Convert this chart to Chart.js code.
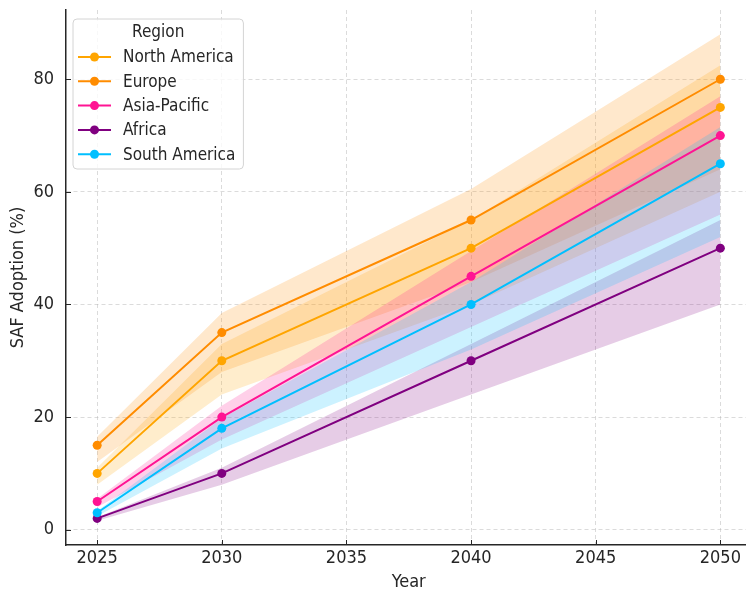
<!DOCTYPE html>
<html>
<head>
<meta charset="utf-8">
<script src="https://cdn.jsdelivr.net/npm/chart.js@4/dist/chart.umd.min.js"></script>
<style>
  html, body { margin: 0; padding: 0; background: #ffffff; overflow: hidden; }
  #wrap { width: 746px; height: 593px; position: relative; overflow: hidden; }
</style>
</head>
<body>
<div id="wrap"><canvas id="chart" width="756" height="593"></canvas></div>
<script>
// Years with observations / projections
const years = [2025, 2030, 2040, 2050];

// Region names in legend order
const regions = ['North America', 'Europe', 'Asia-Pacific', 'Africa', 'South America'];

// SAF adoption (%) per region
const northAmerica = [10, 30, 50, 75];
const europe = [15, 35, 55, 80];
const asiaPacific = [5, 20, 45, 70];
const africa = [2, 10, 30, 50];
const southAmerica = [3, 18, 40, 65];

// Uncertainty band edges per region (lower / upper, %)
const northAmericaLow = [8, 24, 40, 60];
const northAmericaHigh = [11, 33, 55, 82.5];
const europeLow = [12, 28, 44, 64];
const europeHigh = [16.5, 38.5, 60.5, 88];
const asiaPacificLow = [4, 16, 36, 56];
const asiaPacificHigh = [5.5, 22, 49.5, 77];
const africaLow = [1.6, 8, 24, 40];
const africaHigh = [2.2, 11, 33, 55];
const southAmericaLow = [2.4, 14.4, 32, 52];
const southAmericaHigh = [3.3, 19.8, 44, 71.5];

// Tick values
const xTicks = [2025, 2030, 2035, 2040, 2045, 2050];
const yTicks = [0, 20, 40, 60, 80];

const colors = ['#FFA500', '#FF8C00', '#FF1493', '#800080', '#00BFFF'];
const fills = ['rgba(255,165,0,0.2)', 'rgba(255,140,0,0.2)', 'rgba(255,20,147,0.2)', 'rgba(128,0,128,0.2)', 'rgba(0,191,255,0.2)'];

const seriesValues = [northAmerica, europe, asiaPacific, africa, southAmerica];
const seriesLow = [northAmericaLow, europeLow, asiaPacificLow, africaLow, southAmericaLow];
const seriesHigh = [northAmericaHigh, europeHigh, asiaPacificHigh, africaHigh, southAmericaHigh];

const FONT = '"DejaVu Sans Condensed", "DejaVu Sans", sans-serif';
const TEXT = '#262626';

const pts = arr => arr.map((v, i) => ({ x: years[i], y: v }));

// Later regions are listed first so their lines sit on top and their bands are filled last
const datasets = [];
for (let r = regions.length - 1; r >= 0; r--) {
  datasets.push({
    label: regions[r],
    data: pts(seriesValues[r]),
    borderColor: colors[r],
    backgroundColor: colors[r],
    pointBackgroundColor: colors[r],
    pointBorderColor: colors[r],
    borderWidth: 2,
    pointRadius: 4.5,
    pointBorderWidth: 0,
    fill: false,
    tension: 0
  });
  const lowIndex = datasets.length;
  datasets.push({
    label: regions[r] + ' low',
    data: pts(seriesLow[r]),
    borderColor: 'rgba(0,0,0,0)',
    borderWidth: 0,
    pointRadius: 0,
    fill: false,
    tension: 0
  });
  datasets.push({
    label: regions[r] + ' high',
    data: pts(seriesHigh[r]),
    borderColor: 'rgba(0,0,0,0)',
    backgroundColor: fills[r],
    borderWidth: 0,
    pointRadius: 0,
    fill: { target: lowIndex },
    tension: 0
  });
}

// Short inward tick marks on the left and bottom axes
const inwardTicks = {
  id: 'inwardTicks',
  afterDatasetsDraw(chart) {
    const { ctx, chartArea, scales } = chart;
    ctx.save();
    ctx.strokeStyle = TEXT;
    ctx.lineWidth = 1;
    ctx.beginPath();
    xTicks.forEach(t => {
      const x = Math.round(scales.x.getPixelForValue(t)) + 0.5;
      ctx.moveTo(x, chartArea.bottom);
      ctx.lineTo(x, chartArea.bottom - 5);
    });
    yTicks.forEach(t => {
      const y = Math.round(scales.y.getPixelForValue(t)) + 0.5;
      ctx.moveTo(chartArea.left, y);
      ctx.lineTo(chartArea.left + 5, y);
    });
    ctx.stroke();
    ctx.restore();
  }
};

// Framed legend with a title, line handles and markers
const legendBox = {
  id: 'legendBox',
  afterDraw(chart) {
    const { ctx, chartArea } = chart;
    const fontSize = 17;
    ctx.save();
    ctx.font = fontSize + 'px ' + FONT;
    const textW = Math.max(...regions.map(s => ctx.measureText(s).width));
    const x0 = chartArea.left + 7;
    const y0 = chartArea.top + 9;
    const handleX0 = x0 + 5, handleX1 = x0 + 38;
    const textX = x0 + 50;
    const w = textX - x0 + textW + 8;
    const rowH = 24.3;
    const firstRow = y0 + 38;
    const h = 150;

    // frame
    const rad = 4;
    ctx.beginPath();
    ctx.moveTo(x0 + rad, y0);
    ctx.arcTo(x0 + w, y0, x0 + w, y0 + h, rad);
    ctx.arcTo(x0 + w, y0 + h, x0, y0 + h, rad);
    ctx.arcTo(x0, y0 + h, x0, y0, rad);
    ctx.arcTo(x0, y0, x0 + w, y0, rad);
    ctx.closePath();
    ctx.fillStyle = 'rgba(255,255,255,0.8)';
    ctx.fill();
    ctx.strokeStyle = '#d4d4d4';
    ctx.lineWidth = 1;
    ctx.stroke();

    // title
    ctx.fillStyle = TEXT;
    ctx.textAlign = 'center';
    ctx.textBaseline = 'middle';
    ctx.fillText('Region', x0 + w / 2, y0 + 14);

    // entries
    ctx.textAlign = 'left';
    regions.forEach((name, i) => {
      const y = firstRow + i * rowH;
      ctx.strokeStyle = colors[i];
      ctx.lineWidth = 2;
      ctx.beginPath();
      ctx.moveTo(handleX0, y);
      ctx.lineTo(handleX1, y);
      ctx.stroke();
      ctx.fillStyle = colors[i];
      ctx.beginPath();
      ctx.arc((handleX0 + handleX1) / 2, y, 4.5, 0, Math.PI * 2);
      ctx.fill();
      ctx.fillStyle = TEXT;
      ctx.fillText(name, textX, y + 1);
    });
    ctx.restore();
  }
};

new Chart(document.getElementById('chart'), {
  type: 'line',
  data: { datasets },
  options: {
    responsive: false,
    animation: false,
    events: [],
    layout: { padding: { top: 10, right: 0, left: 0, bottom: 0 } },
    plugins: {
      legend: { display: false },
      tooltip: { enabled: false },
      filler: { drawTime: 'beforeDatasetsDraw', propagate: false }
    },
    scales: {
      x: {
        type: 'linear',
        min: 2023.75,
        max: 2051.25,
        afterFit: s => { s.height = 48; s.paddingLeft = 0; s.paddingRight = 0; },
        afterBuildTicks: s => { s.ticks = xTicks.map(v => ({ value: v })); },
        ticks: {
          font: { family: FONT, size: 18 },
          color: TEXT,
          padding: 3,
          callback: v => String(v)
        },
        grid: { color: 'rgba(180,180,180,0.6)', lineWidth: 0.8, drawTicks: false },
        border: { display: true, color: TEXT, width: 1.5, dash: [4, 3] },
        title: {
          display: true,
          text: 'Year',
          font: { family: FONT, size: 18 },
          color: TEXT,
          padding: { top: 2, bottom: 0 }
        }
      },
      y: {
        type: 'linear',
        min: -2.72,
        max: 92.3,
        afterFit: s => { s.width = 66; s.paddingTop = 0; s.paddingBottom = 0; },
        afterBuildTicks: s => { s.ticks = yTicks.map(v => ({ value: v })); },
        ticks: {
          font: { family: FONT, size: 18 },
          color: TEXT,
          padding: 12,
          callback: v => String(v)
        },
        grid: { color: 'rgba(180,180,180,0.6)', lineWidth: 0.8, drawTicks: false },
        border: { display: true, color: TEXT, width: 1.5, dash: [4, 3] },
        title: {
          display: true,
          text: 'SAF Adoption (%)',
          font: { family: FONT, size: 18 },
          color: TEXT,
          padding: { top: 8, bottom: 0 }
        }
      }
    }
  },
  plugins: [inwardTicks, legendBox]
});
</script>
</body>
</html>
